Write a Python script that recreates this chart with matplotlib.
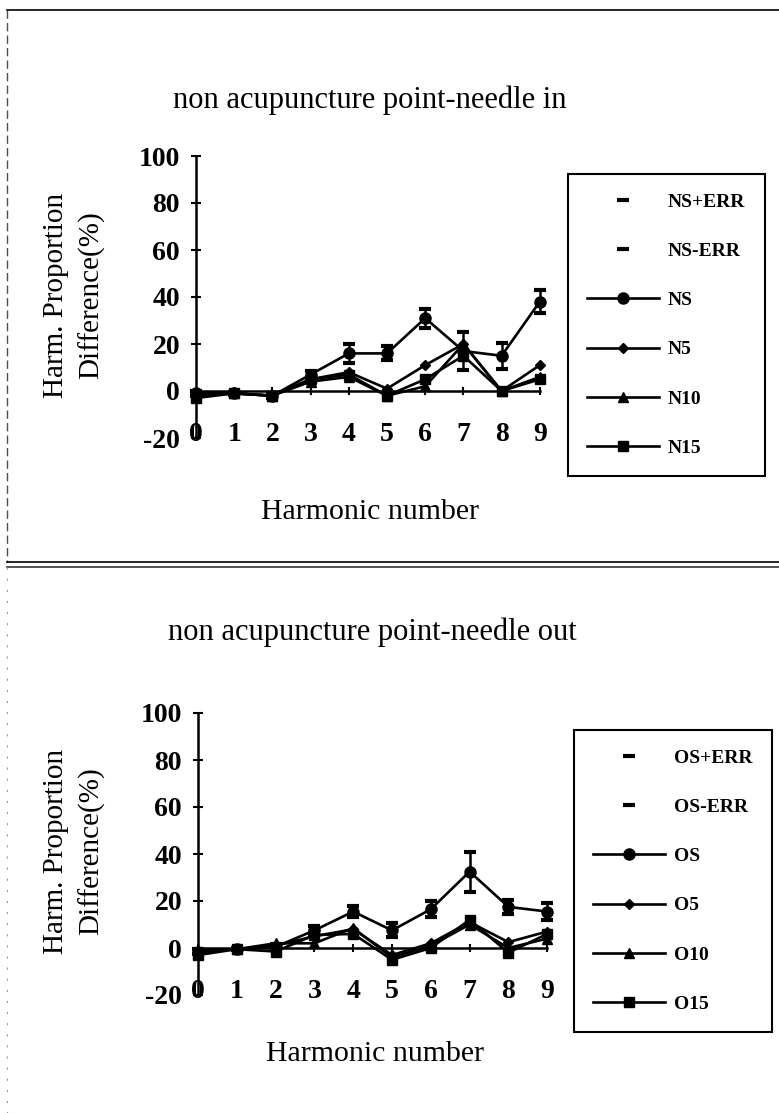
import matplotlib
matplotlib.use("Agg")
import matplotlib.pyplot as plt
from matplotlib.lines import Line2D

plt.rcParams['font.family'] = ['Liberation Serif', 'DejaVu Serif']
plt.rcParams['axes.unicode_minus'] = False

# harmonic number
harm = [0, 1, 2, 3, 4, 5, 6, 7, 8, 9]
y_ticks = [-20, 0, 20, 40, 60, 80, 100]

# needle in (non acupuncture point)
ns = [-1, -1, -2, 7, 16, 16, 31, 17, 15, 38]
ns_err = [1, 0.5, 1, 1.5, 4, 3, 4, 8, 5.5, 5]
n5 = [-1, -1, -2, 5, 8, 1, 11, 20, 0, 11]
n10 = [-2, -1, -2, 4, 6, -2, 2, 20, 0, 6]
n15 = [-3, -1, -2, 5, 7, -2, 5, 15, 0, 5]

# needle out
os_ = [-1.5, -0.5, 0.5, 7.5, 15.5, 7.5, 16.5, 32.5, 17.5, 15.5]
os_err = [1, 0.5, 1, 2, 2.5, 3, 3.5, 8.5, 3, 3.5]
o5 = [-2, -0.5, 1, 5, 8, -3, 2, 11, 2.5, 7]
o10 = [-1, -0.5, 2, 2, 8.5, -4, 1, 10, 0, 4]
o15 = [-3, -0.5, -1.5, 5.5, 6, -5, 0, 12, -2, 6]

W, H = 779, 1113
fig = plt.figure(figsize=(W / 100, H / 100), dpi=100)


def px_axes(x0, y_top, x_unit, y_bot):
    # axes from pixel coords: left, top(y=100), px per harmonic, bottom(y=-20)
    return fig.add_axes([x0 / W, 1 - y_bot / H, 9.25 * x_unit / W, (y_bot - y_top) / H])


def panel(ax, s, err, a, b, c, names, leg_box):
    up = [v + e for v, e in zip(s, err)]
    lo = [v - e for v, e in zip(s, err)]
    ax.vlines(harm, lo, up, color='k', lw=1.8, zorder=3)
    l1, = ax.plot(harm, up, ls='none', marker='_', ms=9, mew=3, color='k', label=names[0], zorder=4, clip_on=False)
    l2, = ax.plot(harm, lo, ls='none', marker='_', ms=9, mew=3, color='k', label=names[1], zorder=4, clip_on=False)
    l3, = ax.plot(harm, s, '-o', color='k', lw=1.9, ms=8, label=names[2], zorder=5, clip_on=False)
    l4, = ax.plot(harm, a, '-D', color='k', lw=1.9, ms=5, label=names[3], zorder=5, clip_on=False)
    l5, = ax.plot(harm, b, '-^', color='k', lw=1.9, ms=7, label=names[4], zorder=5, clip_on=False)
    l6, = ax.plot(harm, c, '-s', color='k', lw=1.9, ms=7, label=names[5], zorder=5, clip_on=False)

    ax.set_xlim(0, 9.25)
    ax.set_ylim(-20, 100)
    ax.set_yticks(y_ticks)
    ax.set_xticks(harm)
    ax.spines['top'].set_visible(False)
    ax.spines['right'].set_visible(False)
    ax.spines['bottom'].set_position(('data', 0))
    ax.spines['bottom'].set_bounds(0, 9)
    ax.spines['left'].set_linewidth(1.8)
    ax.spines['bottom'].set_linewidth(1.8)
    ax.tick_params(axis='y', direction='inout', length=7, width=1.5, pad=8, labelsize=20)
    ax.tick_params(axis='x', direction='inout', length=6, width=1.5, pad=19, labelsize=20)
    for t in ax.get_xticklabels() + ax.get_yticklabels():
        t.set_fontweight('bold')
    ax.patch.set_alpha(0)

    leg = ax.legend(handles=[l1, l2, l3, l4, l5, l6], loc='upper left',
                    bbox_to_anchor=(leg_box[0] / W, 1 - leg_box[1] / H),
                    bbox_transform=fig.transFigure, borderaxespad=0,
                    fancybox=False, edgecolor='k', framealpha=1,
                    prop={'weight': 'bold', 'size': 14},
                    handlelength=3.7, handletextpad=0.45, labelspacing=1.62,
                    borderpad=1.0)
    leg.get_frame().set_linewidth(1.5)


ax1 = px_axes(196, 156, 38.2, 438)
panel(ax1, ns, ns_err, n5, n10, n15, ['NS+ERR', 'NS-ERR', 'NS', 'N5', 'N10', 'N15'], (568, 174))

ax2 = px_axes(198, 713, 38.8, 995)
panel(ax2, os_, os_err, o5, o10, o15, ['OS+ERR', 'OS-ERR', 'OS', 'O5', 'O10', 'O15'], (574, 730))

# titles and labels
fig.text(370 / W, 1 - 100 / H, 'non acupuncture point-needle in', ha='center', va='center', fontsize=22)
fig.text(372 / W, 1 - 632 / H, 'non acupuncture point-needle out', ha='center', va='center', fontsize=22)
fig.text(370 / W, 1 - 512 / H, 'Harmonic number', ha='center', va='center', fontsize=21.5)
fig.text(375 / W, 1 - 1054 / H, 'Harmonic number', ha='center', va='center', fontsize=21.5)
fig.text(74 / W, 1 - 295 / H, 'Harm. Proportion\nDifference(%)', ha='center', va='center',
         rotation=90, fontsize=21, multialignment='center', linespacing=1.45)
fig.text(74 / W, 1 - 851 / H, 'Harm. Proportion\nDifference(%)', ha='center', va='center',
         rotation=90, fontsize=21, multialignment='center', linespacing=1.45)

# scanned page frame lines
def fline(x, y, **kw):
    fig.add_artist(Line2D([v / W for v in x], [1 - v / H for v in y], transform=fig.transFigure, **kw))

fline([7, 779], [10, 10], color='k', lw=1.2)
fline([7, 7], [10, 562], color='0.3', lw=1, ls=(0, (6, 3)))
fline([7, 779], [562, 562], color='k', lw=1.2)
fline([7, 779], [567, 567], color='0.2', lw=1.2)
fline([7, 7], [567, 1113], color='0.6', lw=0.8, ls=(0, (2, 8)))

fig.savefig('out.png', dpi=100)
